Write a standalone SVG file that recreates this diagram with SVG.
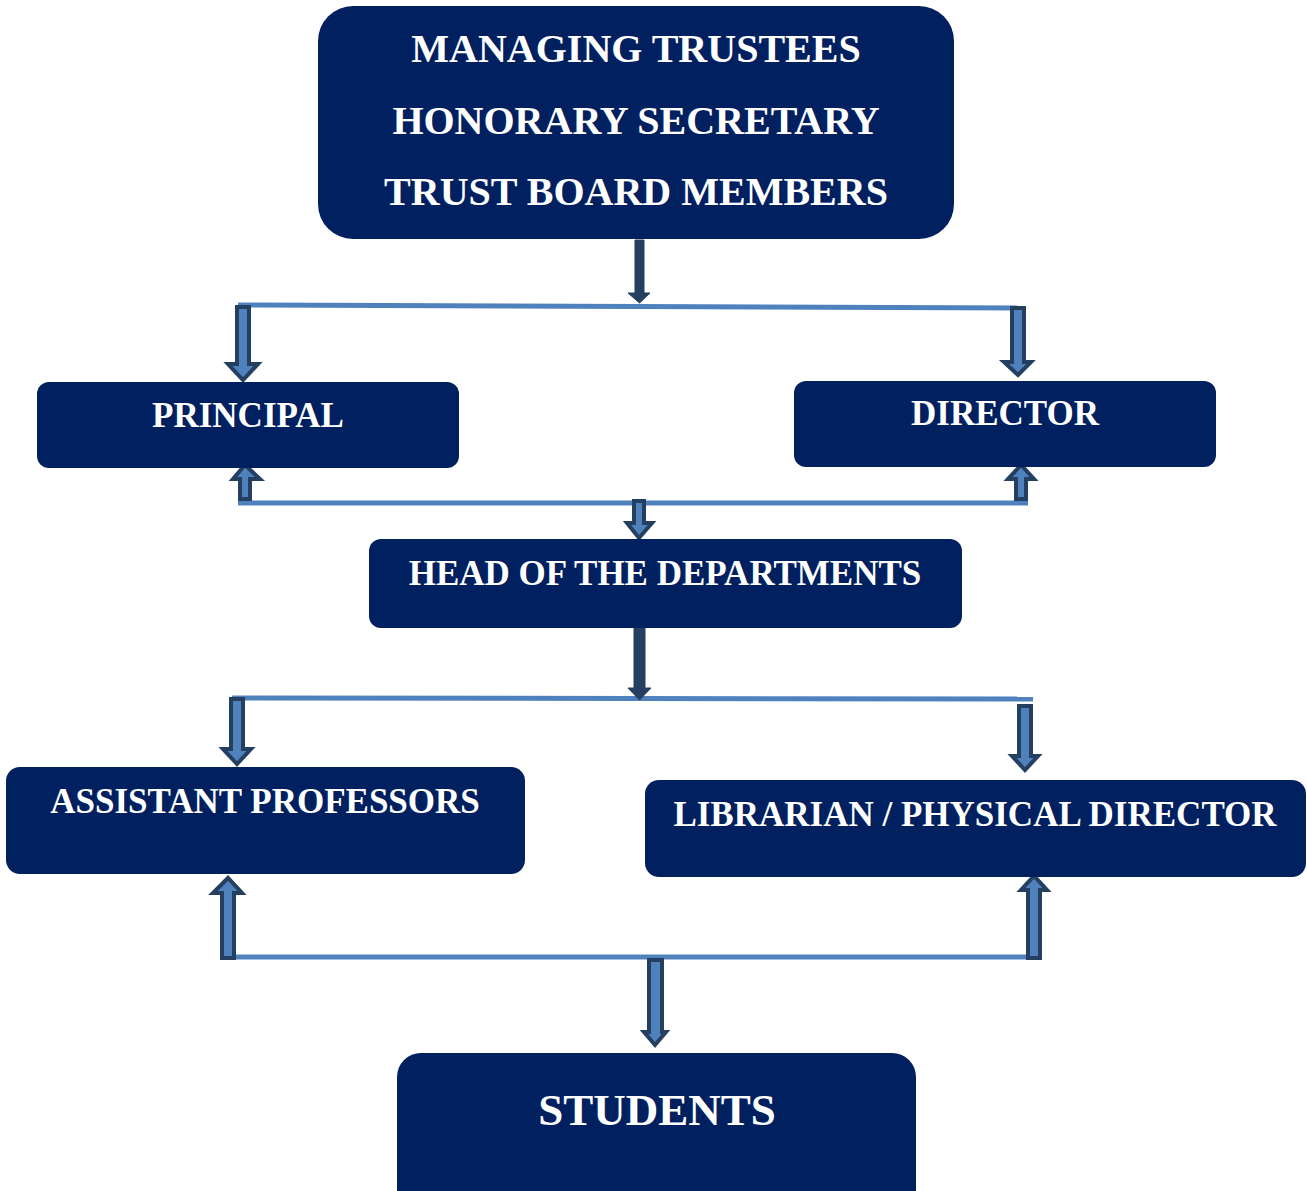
<svg xmlns="http://www.w3.org/2000/svg" width="1307" height="1191" viewBox="0 0 1307 1191">
<style>
.box{fill:#002060}
.t{font-family:"Liberation Serif","Times New Roman",serif;font-weight:bold;fill:#fff;text-anchor:middle}
.ln{stroke:#4F81BD;stroke-width:5;fill:none}
.ar{fill:#4F81BD;stroke:#243F60;stroke-width:4;stroke-linejoin:miter}
.ard{fill:#243F60;stroke:#243F60;stroke-width:1}
</style>
<rect width="1307" height="1191" fill="#fff"/>
<g id="connectors">
<line class="ln" x1="238" y1="305" x2="1020" y2="308"/>
<line class="ln" x1="238" y1="503" x2="1028" y2="503"/>
<line class="ln" x1="232" y1="698" x2="1033" y2="699"/>
<line class="ln" x1="222" y1="957" x2="1035" y2="957"/>
<path class="ard" d="M635,240 H644 V293 H650 L639.5,303 L628,293 H635 Z"/>
<path class="ar" d="M237,307 H249 V364 H258 L243,380 L228,364 H237 Z"/>
<path class="ar" d="M1012,308 H1024 V362 H1031 L1018,375 L1004,362 H1012 Z"/>
<path class="ar" d="M240,499 H250 V479 H260 L245,465 L233,479 H240 Z"/>
<path class="ar" d="M1016,499 H1026 V479 H1034 L1021,465 L1008,479 H1016 Z"/>
<path class="ar" d="M634,501 H644 V523 H652 L639,538 L627,523 H634 Z"/>
<path class="ard" d="M634,625 H645 V688 H651 L639.5,700 L628,688 H634 Z"/>
<path class="ar" d="M231,699 H243 V749 H251 L237,764 L223,749 H231 Z"/>
<path class="ar" d="M1019,706 H1031 V756 H1038 L1025,770 L1012,756 H1019 Z"/>
<path class="ar" d="M222,958 H234 V893 H242 L228,878 L213,893 H222 Z"/>
<path class="ar" d="M1028,958 H1040 V890 H1047 L1034,876 L1021,890 H1028 Z"/>
<path class="ar" d="M649,960 H662 V1032 H666 L655,1045 L644,1032 H649 Z"/>
</g>
<g id="top"><rect class="box" x="318" y="6" width="636" height="233" rx="35"/>
<text class="t" x="636" y="62" font-size="40">MANAGING TRUSTEES</text>
<text class="t" x="636" y="134" font-size="40">HONORARY SECRETARY</text>
<text class="t" x="636" y="205" font-size="40">TRUST BOARD MEMBERS</text></g>
<g id="principal"><rect class="box" x="37" y="382" width="422" height="86" rx="12"/>
<text class="t" x="248" y="427" font-size="35">PRINCIPAL</text></g>
<g id="director"><rect class="box" x="794" y="381" width="422" height="86" rx="12"/>
<text class="t" x="1005" y="425" font-size="35">DIRECTOR</text></g>
<g id="hod"><rect class="box" x="369" y="539" width="593" height="89" rx="12"/>
<text class="t" x="665" y="585" font-size="35">HEAD OF THE DEPARTMENTS</text></g>
<g id="asst"><rect class="box" x="6" y="767" width="519" height="107" rx="14"/>
<text class="t" x="265" y="813" font-size="35">ASSISTANT PROFESSORS</text></g>
<g id="lib"><rect class="box" x="645" y="780" width="661" height="97" rx="14"/>
<text class="t" x="975" y="826" font-size="35">LIBRARIAN / PHYSICAL DIRECTOR</text></g>
<g id="students"><rect class="box" x="397" y="1053" width="519" height="160" rx="24"/>
<text class="t" x="657" y="1125" font-size="45">STUDENTS</text></g>
</svg>
